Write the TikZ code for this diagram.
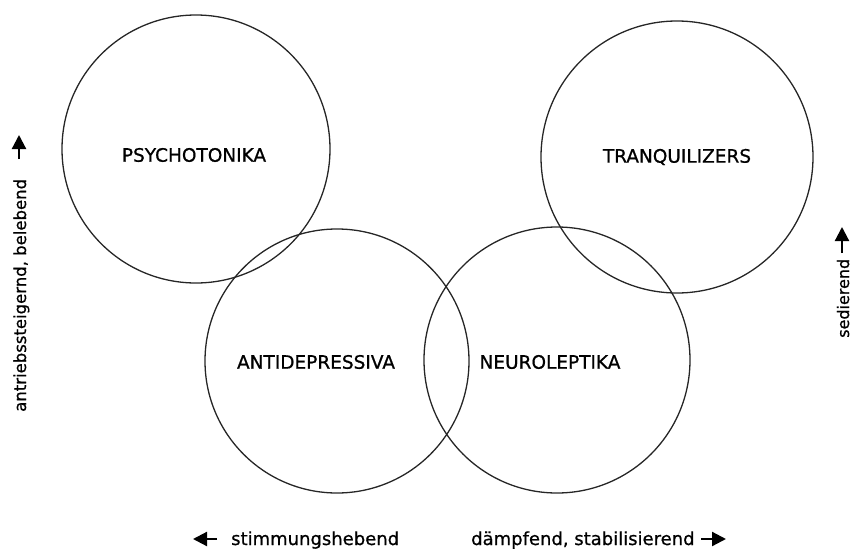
\documentclass[tikz,border=0pt]{standalone}
\usepackage{fontspec}
\setmainfont{DejaVu Sans}
\newfontfamily\heavyfont{DejaVu Sans}[FakeBold=0.8]
\usetikzlibrary{arrows.meta}
\begin{document}
\begin{tikzpicture}[x=1pt,y=-1pt,
  ring/.style={circle,draw=black!85,line width=1.3pt,inner sep=0pt},
  caplabel/.style={font=\heavyfont\fontsize{18.5}{20}\selectfont,inner sep=0pt},
  axislabel/.style={font=\heavyfont\fontsize{18}{20}\selectfont,inner sep=0pt},
  axisarrow/.style={line width=2.2pt,-{Triangle[length=14pt,width=14pt]}}]
\useasboundingbox (0,0) rectangle (855,549);
% circles
\node[ring,minimum size=268pt] (psy) at (196,149) {};
\node[ring,minimum size=272pt] (tra) at (677,157) {};
\node[ring,minimum size=264pt] (anti) at (337,361) {};
\node[ring,minimum size=266pt] (neuro) at (557,360) {};
% labels
\node[caplabel] (lpsy) at (194,155) {PSYCHOTONIKA};
\node[caplabel] (ltra) at (677,157) {TRANQUILIZERS};
\node[caplabel] (lanti) at (316,362) {ANTIDEPRESSIVA};
\node[caplabel] (lneuro) at (550,362) {NEUROLEPTIKA};
% bottom axis
\node[axislabel,anchor=base west] (stim) at (231,545) {stimmungshebend};
\coordinate (sa) at (217,539);
\coordinate (sb) at (193,539);
\draw[axisarrow] (sa) -- (sb);
\node[axislabel,anchor=base west] (daem) at (471,545) {dämpfend, stabilisierend};
\coordinate (da) at (701,539);
\coordinate (db) at (726,539);
\draw[axisarrow] (da) -- (db);
% left axis
\node[axislabel,font=\heavyfont\fontsize{16.5}{20}\selectfont,anchor=base west,rotate=90] (antr) at (26,412) {antriebssteigernd, belebend};
\coordinate (la) at (19,159);
\coordinate (lb) at (19,135);
\draw[axisarrow] (la) -- (lb);
% right axis
\node[axislabel,font=\heavyfont\fontsize{16}{20}\selectfont,anchor=base west,rotate=90] (sed) at (849,338) {sedierend};
\coordinate (ra) at (842,253);
\coordinate (rb) at (842,227);
\draw[axisarrow] (ra) -- (rb);
\end{tikzpicture}
\end{document}
